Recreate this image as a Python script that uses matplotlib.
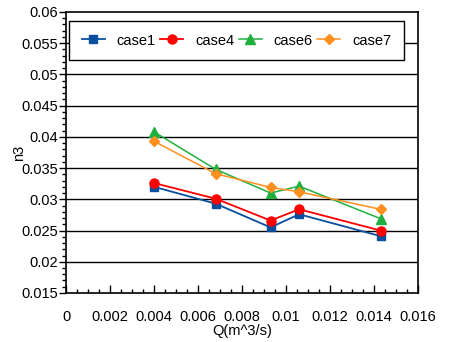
import matplotlib
matplotlib.use("Agg")
import matplotlib.pyplot as plt
from matplotlib.ticker import MultipleLocator

plt.rcParams['font.family'] = ['Liberation Sans', 'DejaVu Sans']

q = [0.004, 0.0068, 0.0093, 0.0106, 0.0143]
case1 = [0.0320, 0.0293, 0.0255, 0.0276, 0.0241]
case4 = [0.0326, 0.0301, 0.0266, 0.0284, 0.0250]
case6 = [0.0408, 0.0348, 0.0310, 0.0321, 0.0269]
case7 = [0.0393, 0.0341, 0.0319, 0.0312, 0.0284]

x_ticks = [0, 0.002, 0.004, 0.006, 0.008, 0.01, 0.012, 0.014, 0.016]
x_labels = ['0', '0.002', '0.004', '0.006', '0.008', '0.01', '0.012', '0.014', '0.016']
y_ticks = [0.015, 0.02, 0.025, 0.03, 0.035, 0.04, 0.045, 0.05, 0.055, 0.06]
y_labels = ['0.015', '0.02', '0.025', '0.03', '0.035', '0.04', '0.045', '0.05', '0.055', '0.06']

fig = plt.figure(figsize=(4.5, 3.42), dpi=100)
ax = fig.add_axes([0.1467, 0.1433, 0.782, 0.822])

# horizontal grid lines
for yv in y_ticks[1:-1]:
    ax.axhline(yv, color='black', linewidth=1.0, zorder=1)

ax.plot(q, case1, color='#0a4f9e', marker='s', markersize=6, linewidth=1.3, label='case1', zorder=3)
ax.plot(q, case4, color='#ff0000', marker='o', markersize=6.5, linewidth=1.3, label='case4', zorder=3)
ax.plot(q, case6, color='#1fb040', marker='^', markersize=6.5, linewidth=1.1, label='case6', zorder=3)
ax.plot(q, case7, color='#ff9020', marker='D', markersize=5, linewidth=1.1, label='case7', zorder=3)

ax.set_xlim(0, 0.016)
ax.set_ylim(0.015, 0.06)
ax.set_xticks(x_ticks)
ax.set_xticklabels(x_labels)
ax.xaxis.set_minor_locator(MultipleLocator(0.0005))
ax.set_yticks(y_ticks)
ax.set_yticklabels(y_labels)
ax.yaxis.set_minor_locator(MultipleLocator(0.001))

ax.tick_params(axis='x', which='major', direction='in', length=6, width=1, labelsize=10.5, pad=12)
ax.tick_params(axis='x', which='minor', direction='in', length=3, width=1)
ax.tick_params(axis='y', which='major', direction='out', length=5, width=1, labelsize=10.5, pad=1)
ax.tick_params(axis='y', which='minor', direction='out', length=3, width=1)

for s in ax.spines.values():
    s.set_linewidth(1.2)
    s.set_color('black')

ax.set_xlabel('Q(m^3/s)', fontsize=10.5, labelpad=0)
ax.set_ylabel('n3', fontsize=10.5, labelpad=-4)

leg = ax.legend(loc='upper left', ncol=4, fontsize=10.5, frameon=True, fancybox=False,
                edgecolor='black', framealpha=1, bbox_to_anchor=(0.009, 0.967),
                handlelength=1.6, columnspacing=0.3, handletextpad=0.8, borderpad=0.85,
                borderaxespad=0)
leg.get_frame().set_linewidth(1.0)
leg.set_zorder(5)

fig.savefig('out.png', dpi=100)
